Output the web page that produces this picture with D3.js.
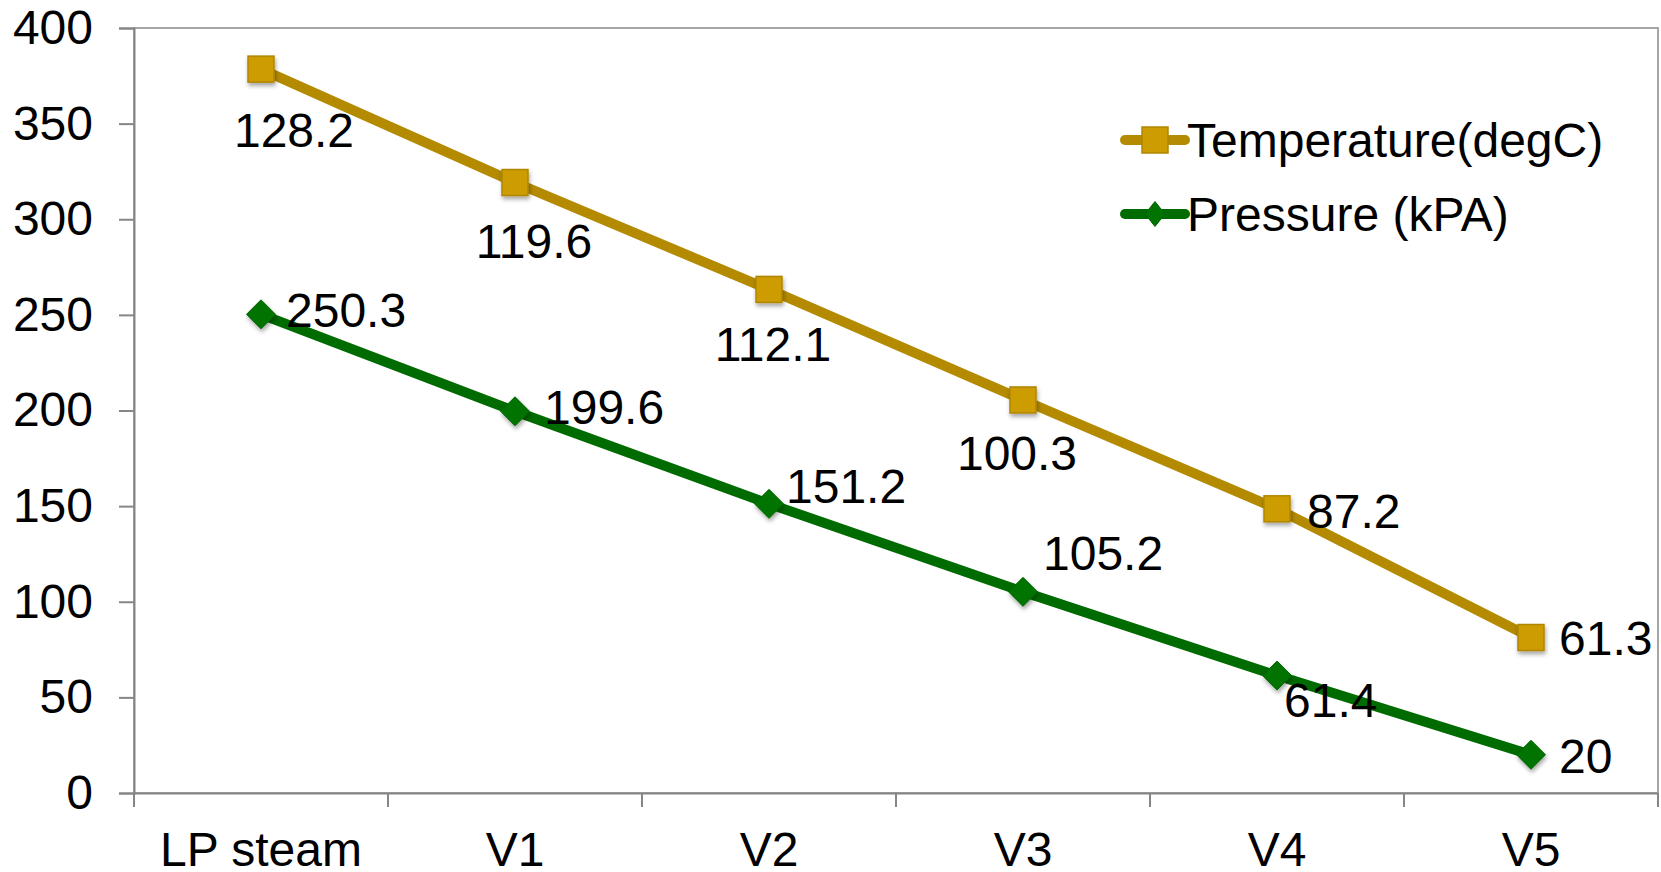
<!DOCTYPE html>
<html>
<head>
<meta charset="utf-8">
<script src="https://cdn.jsdelivr.net/npm/d3@7"></script>
<style>
  html, body { margin: 0; padding: 0; background: #ffffff; }
  text { font-family: "Liberation Sans", Arial, Helvetica, sans-serif; fill: #000; }
</style>
</head>
<body>
<svg id="chart" width="1661" height="872"></svg>
<script>
// Stage along the steam line
const categories = ["LP steam", "V1", "V2", "V3", "V4", "V5"];
// Series values (stacked line chart: temperature sits on top of pressure)
const pressure = [250.3, 199.6, 151.2, 105.2, 61.4, 20];
const temperature = [128.2, 119.6, 112.1, 100.3, 87.2, 61.3];
const yTicks = [0, 50, 100, 150, 200, 250, 300, 350, 400];
const seriesKeys = ["pressure", "temperature"];
const seriesNames = { temperature: "Temperature(degC)", pressure: "Pressure (kPA)" };

// Data label placement relative to each marker: [dx, dy, anchor]
const labelPlacement = {
  temperature: [[33, 61, "middle"], [19, 59, "middle"], [4, 55, "middle"], [-6, 53, "middle"], [30, 2, "start"], [28, 1, "start"]],
  pressure:    [[25, -4, "start"], [29, -4, "start"], [17, -18, "start"], [20, -39, "start"], [7, 25, "start"], [28, 1, "start"]]
};

const W = 1661, H = 872;
const margin = { left: 134, right: 3, top: 28, bottom: 79 };
const FONT = 48;
const LINE_W = 10;

const colors = {
  temperature: { line: "#B38A00", fill: "#CC9C00", stroke: "#B08600" },
  pressure:    { line: "#006B00", fill: "#007300", stroke: "#006600" }
};

// Diamond marker given half-width and half-height
const diamondPath = (rx, ry) => {
  const p = d3.path();
  p.moveTo(0, -ry); p.lineTo(rx, 0); p.lineTo(0, ry); p.lineTo(-rx, 0); p.closePath();
  return p.toString();
};

const rows = categories.map((c, i) => ({ category: c, pressure: pressure[i], temperature: temperature[i] }));
const stacked = d3.stack().keys(seriesKeys)(rows);

const svg = d3.select("#chart");
svg.append("rect").attr("width", W).attr("height", H).attr("fill", "#fff");

const defs = svg.append("defs");
const shadow = defs.append("filter").attr("id", "markerShadow")
  .attr("x", "-50%").attr("y", "-50%").attr("width", "200%").attr("height", "200%");
shadow.append("feDropShadow").attr("dx", 1).attr("dy", 3).attr("stdDeviation", 2)
  .attr("flood-color", "#000").attr("flood-opacity", 0.35);

const x = d3.scaleBand().domain(categories).range([margin.left, W - margin.right]).paddingInner(0).paddingOuter(0);
const y = d3.scaleLinear().domain([0, 400]).range([H - margin.bottom, margin.top]);
const cx = d => x(d) + x.bandwidth() / 2;

// Plot area frame
svg.append("rect")
  .attr("x", margin.left).attr("y", margin.top)
  .attr("width", W - margin.right - margin.left)
  .attr("height", y(0) - margin.top)
  .attr("fill", "none").attr("stroke", "#A6A6A6").attr("stroke-width", 2);

// Y axis
const yAxis = svg.append("g").attr("transform", `translate(${margin.left},0)`)
  .call(d3.axisLeft(y).tickValues(yTicks).tickSize(15).tickPadding(26).tickFormat(d3.format("d")));
yAxis.select(".domain").attr("stroke", "#868686").attr("stroke-width", 2);
yAxis.selectAll(".tick line").attr("stroke", "#868686").attr("stroke-width", 2);
yAxis.selectAll("text").style("font-size", FONT + "px").attr("fill", "#000")
  .style("font-family", '"Liberation Sans", Arial, sans-serif');

// X axis: labels at category centres, ticks on category boundaries
const xAxis = svg.append("g").attr("transform", `translate(0,${y(0)})`)
  .call(d3.axisBottom(x).tickSizeInner(0).tickSizeOuter(0).tickPadding(39));
xAxis.select(".domain").attr("stroke", "#868686").attr("stroke-width", 2);
xAxis.selectAll("text").style("font-size", FONT + "px").attr("fill", "#000")
  .style("font-family", '"Liberation Sans", Arial, sans-serif');
const bounds = categories.map(c => x(c)).concat([x.range()[1]]);
xAxis.selectAll("line.boundary").data(bounds).enter().append("line")
  .attr("class", "boundary")
  .attr("x1", d => d).attr("x2", d => d).attr("y1", 0).attr("y2", 14)
  .attr("stroke", "#868686").attr("stroke-width", 2);

// Series lines
const lineGen = d3.line().x(d => cx(d.data.category)).y(d => y(d[1]));
const layers = {};
stacked.forEach(s => { layers[s.key] = s; });

["pressure", "temperature"].forEach(key => {
  svg.append("path").datum(layers[key])
    .attr("d", lineGen)
    .attr("fill", "none")
    .attr("stroke", colors[key].line)
    .attr("stroke-width", LINE_W)
    .attr("stroke-linejoin", "round")
    .attr("stroke-linecap", "round");
});

// Markers
const SQ = 26;
svg.append("g").selectAll("rect").data(layers.temperature).enter().append("rect")
  .attr("x", d => cx(d.data.category) - SQ / 2)
  .attr("y", d => y(d[1]) - SQ / 2)
  .attr("width", SQ).attr("height", SQ)
  .attr("fill", colors.temperature.fill)
  .attr("stroke", colors.temperature.stroke).attr("stroke-width", 1.5)
  .attr("filter", "url(#markerShadow)");
svg.append("g").selectAll("path").data(layers.pressure).enter().append("path")
  .attr("d", diamondPath(14.5, 14.5))
  .attr("transform", d => `translate(${cx(d.data.category)},${y(d[1])})`)
  .attr("fill", colors.pressure.fill)
  .attr("stroke", colors.pressure.stroke).attr("stroke-width", 1)
  .attr("filter", "url(#markerShadow)");

// Data labels
["temperature", "pressure"].forEach(key => {
  svg.append("g").selectAll("text").data(layers[key]).enter().append("text")
    .attr("x", (d, i) => cx(d.data.category) + labelPlacement[key][i][0])
    .attr("y", (d, i) => y(d[1]) + labelPlacement[key][i][1])
    .attr("dy", "0.35em")
    .attr("text-anchor", (d, i) => labelPlacement[key][i][2])
    .style("font-size", FONT + "px")
    .text(d => d.data[key]);
});

// Legend
const legendItems = ["temperature", "pressure"];
const legend = svg.append("g");
legendItems.forEach((key, i) => {
  const ly = 140 + i * 74;
  const g = legend.append("g").attr("transform", `translate(1125,${ly})`);
  g.append("line").attr("x1", 0).attr("x2", 60).attr("y1", 0).attr("y2", 0)
    .attr("stroke", colors[key].line).attr("stroke-width", LINE_W).attr("stroke-linecap", "round");
  if (key === "temperature") {
    g.append("rect").attr("x", 30 - 13).attr("y", -13).attr("width", 26).attr("height", 26)
      .attr("fill", colors[key].fill).attr("stroke", colors[key].stroke).attr("stroke-width", 1.5);
  } else {
    g.append("path").attr("d", diamondPath(10, 12.5))
      .attr("transform", "translate(30,0)")
      .attr("fill", colors[key].fill).attr("stroke", colors[key].stroke).attr("stroke-width", 1);
  }
  g.append("text").attr("x", 62).attr("y", 0).attr("dy", "0.35em")
    .style("font-size", FONT + "px").text(seriesNames[key]);
});
</script>
</body>
</html>
